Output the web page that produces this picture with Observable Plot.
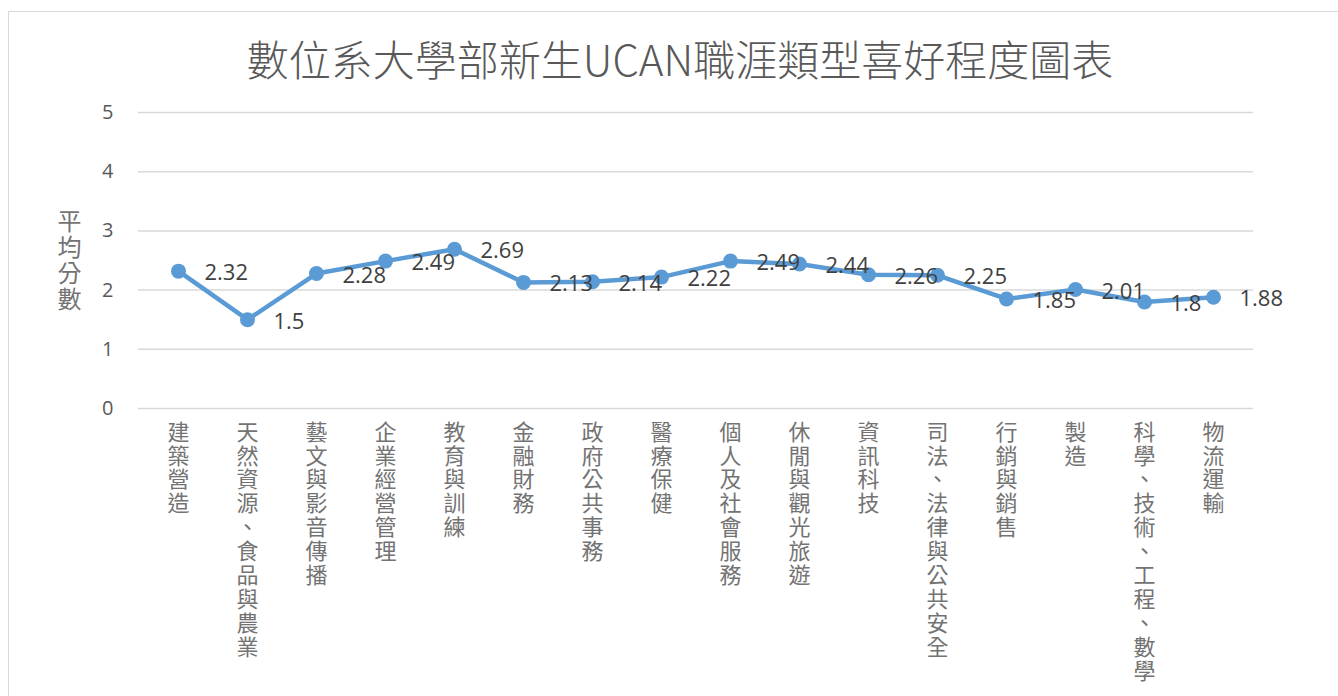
<!DOCTYPE html>
<html>
<head>
<meta charset="utf-8">
<script src="https://cdn.jsdelivr.net/npm/d3@7"></script>
<script src="https://cdn.jsdelivr.net/npm/@observablehq/plot@0.6"></script>
<style>
  body { margin: 0; background: #fff; overflow: hidden; }
  #wrap { position: relative; width: 1338px; height: 696px; overflow: hidden; }
  #frame { position: absolute; left: 8px; top: 11px; width: 1360px; height: 720px; border: 1.5px solid #d9d9d9; box-sizing: border-box; }
  #title { position: absolute; left: 0; top: 34px; width: 1360px; text-align: center;
           font: 300 42px/48px "Noto Sans CJK TC", sans-serif; color: #595959; white-space: nowrap; }
  #chart { position: absolute; left: 0; top: 0; }
</style>
</head>
<body>
<div id="wrap">
  <div id="frame"></div>
  <div id="title">數位系大學部新生UCAN職涯類型喜好程度圖表</div>
  <div id="chart"></div>
</div>
<script>
const categories = [
  "建築營造", "天然資源、食品與農業", "藝文與影音傳播", "企業經營管理",
  "教育與訓練", "金融財務", "政府公共事務", "醫療保健",
  "個人及社會服務", "休閒與觀光旅遊", "資訊科技", "司法、法律與公共安全",
  "行銷與銷售", "製造", "科學、技術、工程、數學", "物流運輸"
];
const values = [2.32, 1.5, 2.28, 2.49, 2.69, 2.13, 2.14, 2.22, 2.49, 2.44, 2.26, 2.25, 1.85, 2.01, 1.8, 1.88];
const yTicks = [0, 1, 2, 3, 4, 5];
const yLabel = "平均分數";

const data = categories.map((c, i) => ({category: c, value: values[i]}));
const vertical = s => [...s].join("\n");

const chart = Plot.plot({
  width: 1338,
  height: 696,
  marginLeft: 138,
  marginRight: 85,
  marginTop: 112,
  marginBottom: 288,
  style: {background: "transparent", color: "#595959", fontFamily: "'Open Sans', 'Noto Sans CJK TC', sans-serif"},
  x: {type: "point", domain: categories, padding: 0.5, label: null},
  y: {domain: [0, 5], ticks: yTicks, label: null},
  marks: [
    Plot.ruleY(yTicks, {stroke: "#d9d9d9", strokeWidth: 1.5}),
    Plot.axisY({ticks: yTicks, tickFormat: d => String(d), tickSize: 0, tickPadding: 25, fontSize: 20, label: null}),
    Plot.axisX({tickSize: 0, tickPadding: 14, tickFormat: vertical, lineAnchor: "top",
                lineHeight: 1.09, fontSize: 22, label: null, fill: "#737373",
                fontFamily: "'Noto Sans CJK TC', sans-serif"}),
    Plot.line(data, {x: "category", y: "value", stroke: "#5B9BD5", strokeWidth: 4.5}),
    Plot.dot(data, {x: "category", y: "value", r: 7.5, fill: "#5B9BD5"}),
    Plot.text(data, {x: "category", y: "value", text: d => String(d.value), dx: 26, dy: 2,
                     textAnchor: "start", fontSize: 22, fill: "#404040"}),
    Plot.text([yLabel], {frameAnchor: "left", dx: -69, text: d => vertical(d), textAnchor: "middle",
                         fontSize: 24, lineHeight: 1.08, fill: "#737373",
                         fontFamily: "'Noto Sans CJK TC', sans-serif"})
  ]
});
document.getElementById("chart").append(chart);
</script>
</body>
</html>
